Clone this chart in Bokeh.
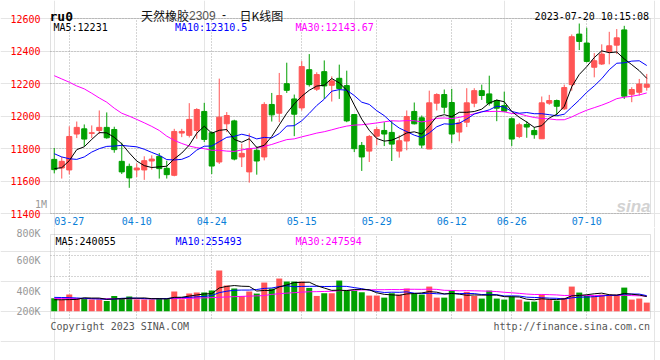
from bokeh.plotting import figure
from bokeh.layouts import column
from bokeh.models import (ColumnDataSource, Range1d, FixedTicker, Label, LinearAxis,
                          Grid, BoxAnnotation)
from bokeh.embed import file_html
from bokeh.resources import INLINE

# ---------------- data ----------------
tick_idx = [2, 11, 21, 33, 43, 53, 61, 71]
tick_labels = ["03-27", "04-10", "04-24", "05-15", "05-29", "06-12", "06-26", "07-10"]

open_ = [11733, 11680, 11668, 11889, 11921, 11893, 11911, 11930, 11917, 11721,
         11690, 11668, 11668, 11723, 11752, 11678, 11635, 11895, 11881, 11911,
         12028, 11897, 11717, 11952, 11970, 11748, 11656, 11789, 11748, 12071,
         12017, 12199, 12105, 12050, 12285, 12165, 12273, 12189, 12232, 12187,
         12009, 11819, 11784, 11876, 11911, 11899, 11784, 11846, 12028, 11989,
         11797, 12079, 12132, 12083, 11901, 11962, 12079, 12156, 12136, 12095,
         12064, 11983, 11874, 11948, 11911, 11860, 12079, 12095, 12044, 12193,
         12504, 12449, 12300, 12320, 12396, 12436, 12530, 12134, 12146, 12177]
high = [11803, 11748, 11936, 11966, 11948, 11942, 12034, 12022, 11934, 11836,
        11707, 11709, 11752, 11758, 11772, 11725, 11921, 11921, 12079, 12048,
        12081, 11905, 12230, 12024, 11977, 11829, 11893, 11813, 12085, 12142,
        12265, 12328, 12132, 12338, 12381, 12269, 12342, 12244, 12316, 12279,
        12011, 11840, 11883, 11932, 11962, 11972, 11881, 12034, 12083, 12003,
        12156, 12140, 12163, 12167, 11979, 12171, 12171, 12193, 12248, 12101,
        12150, 11991, 11958, 11968, 11932, 12120, 12130, 12101, 12193, 12502,
        12569, 12543, 12387, 12441, 12518, 12535, 12555, 12177, 12228, 12259]
low = [11647, 11615, 11641, 11864, 11813, 11864, 11889, 11860, 11774, 11643,
       11558, 11625, 11607, 11670, 11615, 11615, 11629, 11870, 11868, 11860,
       11840, 11643, 11705, 11901, 11727, 11686, 11590, 11639, 11727, 11966,
       11962, 12142, 11876, 12034, 12181, 12154, 12105, 12089, 12105, 11962,
       11778, 11662, 11717, 11819, 11815, 11723, 11744, 11789, 11948, 11801,
       11797, 12034, 12015, 11833, 11844, 11932, 12054, 12099, 12064, 11968,
       12024, 11815, 11864, 11866, 11860, 11860, 12069, 12003, 12038, 12156,
       12406, 12330, 12238, 12314, 12318, 12381, 12105, 12085, 12126, 12156]
close = [11670, 11721, 11874, 11930, 11858, 11897, 11930, 11866, 11793, 11656,
         11619, 11680, 11725, 11735, 11676, 11639, 11905, 11905, 11979, 12040,
         11856, 11692, 11993, 12003, 11735, 11770, 11799, 11723, 12071, 12007,
         12126, 12158, 12011, 12304, 12193, 12255, 12185, 12216, 12169, 11970,
         11799, 11748, 11874, 11917, 11889, 11827, 11848, 11997, 11952, 11821,
         12081, 12132, 12054, 11889, 11958, 12081, 12156, 12126, 12079, 12048,
         12030, 11858, 11946, 11932, 11885, 12081, 12095, 12060, 12175, 12488,
         12459, 12336, 12340, 12381, 12432, 12481, 12122, 12163, 12197, 12195]
volume = [217000, 195000, 278000, 223000, 212000, 195000, 195000, 173000, 256000, 223000,
          245000, 195000, 195000, 195000, 223000, 223000, 329000, 200000, 295000, 312000,
          312000, 345000, 680000, 429000, 379000, 256000, 329000, 295000, 479000, 379000,
          546000, 496000, 496000, 496000, 390000, 256000, 301000, 301000, 512000, 356000,
          345000, 317000, 262000, 262000, 228000, 301000, 278000, 379000, 295000, 278000,
          412000, 228000, 228000, 345000, 212000, 323000, 256000, 212000, 345000, 212000,
          195000, 245000, 195000, 162000, 162000, 278000, 195000, 178000, 223000, 412000,
          312000, 256000, 256000, 278000, 278000, 278000, 395000, 195000, 212000, 145000]

# moving-average values at the left edge (they depend on sessions before the window)
ma5_head = [11676, 11682, 11725, 11793]
ma10_head = [11768, 11748, 11737, 11733, 11748, 11778, 11799, 11813, 11815]
ma30_head = [12248, 12228, 12208, 12185, 12167, 12140, 12111, 12085, 12048, 12017,
             11999, 11979, 11958, 11936, 11911, 11876, 11850, 11831, 11815, 11805,
             11799, 11789, 11789, 11784, 11782, 11791, 11799, 11803, 11813]
vma5_head = [192000, 192000, 195000, 198000]
vma10_head = [232000, 230000, 228000, 222000, 216000, 210000, 205000, 200000, 203000]
vma30_head = [212000, 212000, 211000, 211000, 210000, 210000, 210000, 209000, 209000, 209000,
              209000, 209000, 209000, 209000, 210000, 210000, 211000, 213000, 216000, 220000,
              224000, 228000, 234000, 239000, 244000, 249000, 253000, 257000, 262000]

price_ticks = [11400, 11600, 11800, 12000, 12200, 12400, 12600]
vol_tick_labels = ["200K", "400K", "600K", "800K"]

# ---------------- helpers ----------------
def moving_average(vals, n, head):
    out = list(head)
    for i in range(len(head), len(vals)):
        out.append(sum(vals[i - n + 1:i + 1]) / n)
    return out

UP, DOWN = "#FF5555", "#00A000"
MONO = "DejaVu Sans Mono"
CJK = "Noto Sans CJK SC"
GRID = "#AAAAAA"
BORDER = "#999999"

n = len(close)
colors = [UP if c >= o else DOWN for o, c in zip(open_, close)]
src = ColumnDataSource(dict(
    x=list(range(n)), open=open_, high=high, low=low, close=close,
    top=[max(o, c) for o, c in zip(open_, close)],
    bottom=[min(o, c) for o, c in zip(open_, close)],
    color=colors, vol=volume,
    ma5=moving_average(close, 5, ma5_head),
    ma10=moving_average(close, 10, ma10_head),
    ma30=moving_average(close, 30, ma30_head),
    vma5=moving_average(volume, 5, vma5_head),
    vma10=moving_average(volume, 10, vma10_head),
    vma30=moving_average(volume, 30, vma30_head),
))

# layout in window pixels
W = 660
F_LEFT, F_RIGHT = 50, 650        # plotting area, both panels
P_TOP, P_BOT = 18, 213           # price box
V_TOP, V_BOT = 234, 318          # volume box
SPLIT, H = 227, 360              # canvas split between the two figures
PMIN, PMAX = 11400, 12600
VB, VT = -120000, 1280000        # volume values at V_BOT / V_TOP

XL, XR = -0.5, n - 0.5

def px(wx):
    return XL + (wx - F_LEFT) * (XR - XL) / (F_RIGHT - F_LEFT)

def py(wy):
    return PMIN + (P_BOT - wy) * (PMAX - PMIN) / (P_BOT - P_TOP)

def vy(wy):
    return VB + (V_BOT - wy) * (VT - VB) / (V_BOT - V_TOP)

HAS_CROSS = "cross_bounds" in Grid.properties()

def add_grid(p, dim, ticks, cross):
    if HAS_CROSS:
        p.add_layout(Grid(dimension=dim, ticker=FixedTicker(ticks=ticks), cross_bounds=cross,
                          grid_line_color=GRID, grid_line_dash="1 2", grid_line_width=1))
    elif dim == 0:
        p.segment(x0=ticks, x1=ticks, y0=[cross[0]] * len(ticks), y1=[cross[1]] * len(ticks),
                  line_color=GRID, line_dash="1 2", line_width=1)
    else:
        p.segment(y0=ticks, y1=ticks, x0=[cross[0]] * len(ticks), x1=[cross[1]] * len(ticks),
                  line_color=GRID, line_dash="1 2", line_width=1)

def make_fig(height, y_range):
    p = figure(width=W, height=height, x_range=Range1d(px(0), px(W)), y_range=y_range,
               output_backend="svg", toolbar_location=None, title=None,
               x_axis_location=None, y_axis_location=None,
               min_border=0, min_border_left=0, min_border_right=0,
               min_border_top=0, min_border_bottom=0)
    p.background_fill_color = "white"
    p.border_fill_color = "white"
    p.outline_line_color = None
    return p

def axis(ticks, loc, color, standoff, overrides=None):
    ax = LinearAxis(fixed_location=loc, ticker=FixedTicker(ticks=ticks),
                    axis_line_color=None, major_tick_line_color=None,
                    minor_tick_line_color=None, major_label_text_color=color,
                    major_label_text_font=MONO, major_label_text_font_size="10px",
                    major_label_standoff=standoff)
    if overrides:
        ax.major_label_overrides = overrides
    return ax

def lab(p, x, y, text, color="#000000", size="10px", font=MONO, align="left",
        style="normal"):
    p.add_layout(Label(x=x, y=y, text=text, text_color=color, text_font=font,
                       text_font_size=size, text_align=align, text_font_style=style,
                       text_baseline="alphabetic"))

# ---------------- price panel ----------------
p1 = make_fig(SPLIT, Range1d(py(SPLIT), py(0)))
add_grid(p1, 0, tick_idx, (PMIN, PMAX))
add_grid(p1, 1, price_ticks, (XL, XR))
p1.add_layout(axis(price_ticks, XL, "#FF0000", 4), "left")
p1.add_layout(axis(tick_idx, PMIN, "#0A80D8", -3,
                   {t: l for t, l in zip(tick_idx, tick_labels)}), "below")

p1.segment(x0="x", y0="low", x1="x", y1="high", color="color", line_width=1, source=src)
p1.vbar(x="x", width=0.68, top="top", bottom="bottom", fill_color="color",
        line_color="color", line_width=1, source=src)
p1.line("x", "ma30", color="#FF00FF", line_width=1, source=src)
p1.line("x", "ma10", color="#0000FF", line_width=1, source=src)
p1.line("x", "ma5", color="#000000", line_width=1, source=src)
p1.add_layout(BoxAnnotation(left=XL, right=XR, bottom=PMIN, top=PMAX, fill_color=None,
                            line_color=BORDER, line_width=1))

lab(p1, px(49), py(16), "ru0", size="13px", style="bold")
lab(p1, px(140.5), py(15), "天然橡胶", size="12px", font=CJK, color="#111111")
lab(p1, px(188.5), py(15), "2309", size="12px", font="Liberation Sans", color="#555555")
lab(p1, px(221.5), py(14), "-", size="12px", font="Liberation Sans", color="#111111")
lab(p1, px(239), py(15), "日K线图", size="12px", font=CJK, color="#111111")
lab(p1, px(648.5), py(15.5), "2023-07-20 10:15:08", size="10px", align="right")
lab(p1, px(53), py(27.3), "MA5:12231", color="#000000")
lab(p1, px(174.5), py(27.3), "MA10:12310.5", color="#0000FF")
lab(p1, px(295), py(27.3), "MA30:12143.67", color="#FF00FF")
lab(p1, px(46.5), py(204), "1M", color="#999999", align="right")
lab(p1, px(650), py(206), "sina", size="17px", font="Liberation Sans",
    color="#D2D2D2", align="right", style="bold italic")

# ---------------- volume panel ----------------
vol_ticks = [vy(310.5), vy(290.5), vy(260), vy(231)]
p2 = make_fig(H - SPLIT, Range1d(vy(H), vy(SPLIT)))
add_grid(p2, 0, tick_idx, (VB, VT))
add_grid(p2, 1, [vy(276), vy(255)], (XL, XR))
p2.add_layout(axis(vol_ticks, XL, "#999999", 4,
                   {t: l for t, l in zip(vol_ticks, vol_tick_labels)}), "left")

p2.vbar(x="x", width=0.8, top="vol", bottom=0, fill_color="color", line_color=None, source=src)
p2.line("x", "vma30", color="#FF00FF", line_width=1, source=src)
p2.line("x", "vma10", color="#0000FF", line_width=1, source=src)
p2.line("x", "vma5", color="#000000", line_width=1, source=src)
p2.add_layout(BoxAnnotation(left=XL, right=XR, bottom=VB, top=VT, fill_color=None,
                            line_color=BORDER, line_width=1))

lab(p2, px(55), vy(241.3), "MA5:240055", color="#000000")
lab(p2, px(175), vy(241.3), "MA10:255493", color="#0000FF")
lab(p2, px(295), vy(241.3), "MA30:247594", color="#FF00FF")
lab(p2, px(50), vy(326), "Copyright 2023 SINA.COM", color="#555555")
lab(p2, px(649.5), vy(326), "http://finance.sina.com.cn", color="#555555", align="right")

layout = column(p1, p2, spacing=0)
open("out.html", "w").write(file_html(layout, INLINE))
